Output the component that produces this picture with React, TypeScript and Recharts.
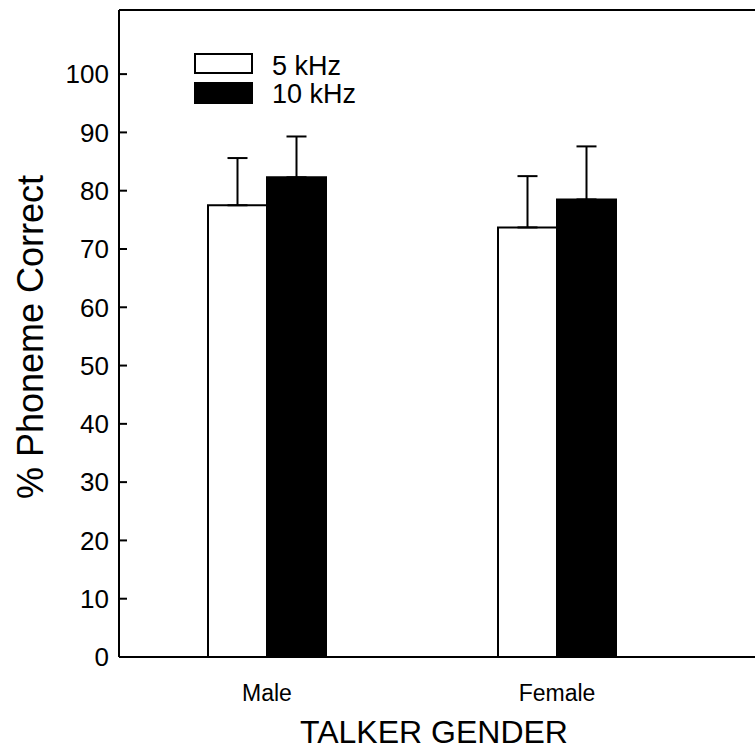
import React from 'react';
import { BarChart, Bar, XAxis, YAxis, ErrorBar, ReferenceLine } from 'recharts';

const categories = ['Male', 'Female'];
const khz5 = [77.5, 73.7];
const khz10 = [82.3, 78.5];
const err5 = [8.1, 8.8];
const err10 = [7.0, 9.1];
const yTicks = [0, 10, 20, 30, 40, 50, 60, 70, 80, 90, 100];
const seriesNames = ['5 kHz', '10 kHz'];

const data = categories.map((c, i) => ({
  name: c,
  k5: khz5[i],
  k10: khz10[i],
  e5: [0, err5[i]],
  e10: [0, err10[i]],
}));

const FONT = '"Liberation Sans", Arial, sans-serif';

const LegendBox = () => (
  <svg width={200} height={60} style={{ display: 'block', overflow: 'visible' }}>
    <rect x={1} y={1} width={57} height={19} fill="#fff" stroke="#000" strokeWidth={2} />
    <rect x={1} y={30} width={57} height={20} fill="#000" stroke="#000" strokeWidth={2} />
    <text x={78} y={22} fontSize={27} fontFamily={FONT} fill="#000">{seriesNames[0]}</text>
    <text x={78} y={50} fontSize={27} fontFamily={FONT} fill="#000">{seriesNames[1]}</text>
  </svg>
);

export default function App() {
  return (
    <div style={{ position: 'absolute', left: 0, top: 0, width: 755, height: 754, background: '#fff' }}>
      <BarChart
        width={755}
        height={754}
        data={data}
        margin={{ top: 10, right: 0, bottom: 0, left: 0 }}
        barSize={59}
        barGap={0}
      >
        <XAxis
          dataKey="name"
          height={97}
          padding={{ left: 3, right: 53 }}
          axisLine={{ stroke: '#000', strokeWidth: 2 }}
          tickLine={false}
          tickSize={0}
          tickMargin={28}
          tick={{ fill: '#000', fontSize: 23, fontFamily: FONT }}
          label={{
            content: () => (
              <text x={434} y={743} textAnchor="middle" fontSize={32} fontFamily={FONT} fill="#000">
                TALKER GENDER
              </text>
            ),
          }}
        />
        <YAxis
          width={119}
          domain={[0, 111]}
          ticks={yTicks}
          interval={0}
          allowDataOverflow
          axisLine={{ stroke: '#000', strokeWidth: 2 }}
          tickLine={{ stroke: '#000', strokeWidth: 2 }}
          tickSize={-8}
          tickMargin={18}
          tick={{ fill: '#000', fontSize: 26, fontFamily: FONT }}
          label={{
            content: () => (
              <text
                x={43}
                y={337}
                transform="rotate(-90 43 337)"
                textAnchor="middle"
                fontSize={36}
                fontFamily={FONT}
                fill="#000"
              >
                % Phoneme Correct
              </text>
            ),
          }}
        />
        <ReferenceLine y={111} stroke="#000" strokeWidth={2} ifOverflow="extendDomain" />
        <Bar dataKey="k5" fill="#fff" stroke="#000" strokeWidth={2} isAnimationActive={false}>
          <ErrorBar dataKey="e5" direction="y" width={10} stroke="#000" strokeWidth={2} isAnimationActive={false} />
        </Bar>
        <Bar dataKey="k10" fill="#000" stroke="#000" strokeWidth={2} isAnimationActive={false}>
          <ErrorBar dataKey="e10" direction="y" width={10} stroke="#000" strokeWidth={2} isAnimationActive={false} />
        </Bar>
      </BarChart>
      <div style={{ position: 'absolute', left: 194, top: 53 }}>
        <LegendBox />
      </div>
    </div>
  );
}
